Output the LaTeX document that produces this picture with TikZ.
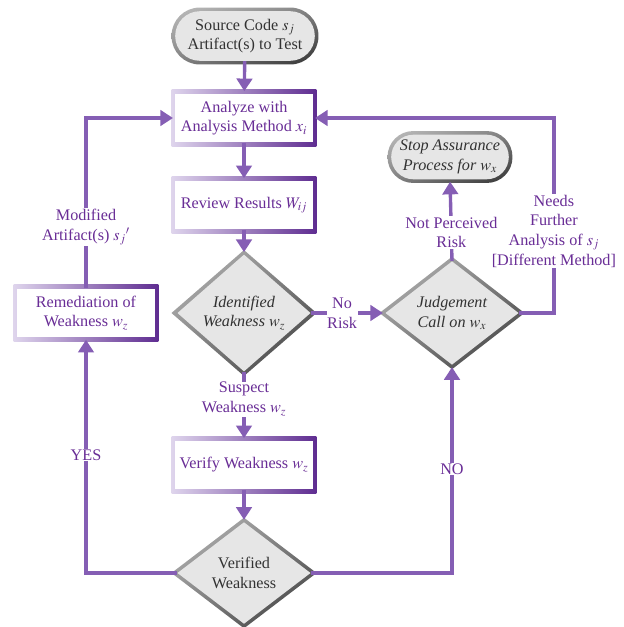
\documentclass[tikz,border=0pt]{standalone}
\usepackage{mathptmx}
\usepackage{fontspec}
\setmainfont{Liberation Serif}
\usetikzlibrary{arrows.meta,shapes.geometric,backgrounds,shadings}

\definecolor{flowline}{RGB}{133,94,180}
\definecolor{flowtext}{RGB}{105,45,150}
\definecolor{boxlight}{RGB}{222,212,236}
\definecolor{boxdark}{RGB}{95,45,145}
\definecolor{greylight}{RGB}{190,190,190}
\definecolor{greymid}{RGB}{130,130,130}
\definecolor{greydark}{RGB}{50,50,50}
\definecolor{greyfill}{RGB}{230,230,230}

\newcommand{\flowfont}{\fontsize{11.5}{14}\selectfont}

\tikzset{
  flowbox/.style={rectangle, fill=white, text=flowtext, align=center, inner sep=0pt,
    minimum width=3.43cm, minimum height=1.22cm},
  decision/.style={diamond, fill=greyfill, text=greydark, align=center, inner sep=0pt,
    minimum width=3.33cm, minimum height=2.54cm},
  terminal/.style={rectangle, fill=greyfill, text=greydark, align=center, inner sep=0pt},
  slanted/.style={font=\flowfont\itshape},
  greyrim/.style={upper left=greylight, upper right=greymid, lower left=greymid, lower right=greydark},
  flow/.style={draw=flowline, line width=2.4pt, -{Triangle[width=11pt,length=9pt]}, shorten >=1.5pt},
  lbl/.style={fill=white, text=flowtext, align=center, inner sep=0.5pt}
}

\begin{document}
\begin{tikzpicture}[x=0.025cm, y=-0.025cm, font=\flowfont]
\useasboundingbox (0,0) rectangle (624,627);

% terminals
\node[terminal, minimum width=3.49cm, minimum height=1.24cm, rounded corners=0.62cm] (src) at (245,36) {Source Code $s_j$\\Artifact(s) to Test};
\node[terminal, minimum width=2.94cm, minimum height=1.115cm, rounded corners=0.557cm, slanted] (stop) at (450,157) {Stop Assurance\\Process for $w_x$};

% process boxes
\node[flowbox] (analyze) at (244,118) {Analyze with\\Analysis Method $x_i$};
\node[flowbox] (review) at (244,205) {Review Results $W_{ij}$};
\node[flowbox] (remed) at (86,313) {Remediation of\\Weakness $w_z$};
\node[flowbox] (verify) at (244,465) {Verify Weakness $w_z$};

% decisions
\node[decision, slanted] (ident) at (244,313) {Identified\\Weakness $w_z$};
\node[decision, slanted] (judge) at (452,313) {Judgement\\Call on $w_x$};
\node[decision] (verified) at (244,573) {Verified\\Weakness};

% borders
\begin{scope}[on background layer]
\foreach \n in {analyze,review,remed,verify}
  \shade[left color=boxlight, right color=boxdark] ([shift={(-2.4pt,2.4pt)}]\n.north west) rectangle ([shift={(2.4pt,-2.4pt)}]\n.south east);
\foreach \n in {ident,judge,verified}
  \shade[greyrim]
    ([yshift=3pt]\n.north) -- ([xshift=4pt]\n.east) -- ([yshift=-3pt]\n.south) -- ([xshift=-4pt]\n.west) -- cycle;
\shade[greyrim, rounded corners=0.705cm]
  ([shift={(-2.4pt,2.4pt)}]src.north west) rectangle ([shift={(2.4pt,-2.4pt)}]src.south east);
\shade[greyrim, rounded corners=0.642cm]
  ([shift={(-2.4pt,2.4pt)}]stop.north west) rectangle ([shift={(2.4pt,-2.4pt)}]stop.south east);
\end{scope}

% main column
\draw[flow] (src) -- (analyze);
\draw[flow] (analyze) -- (review);
\draw[flow] (review) -- (ident);
\draw[flow] (ident) -- node[lbl, pos=0.4] {Suspect\\Weakness $w_z$} (verify);
\draw[flow] (verify) -- (verified);

% loops back
\draw[flow] (remed.north) |- node[lbl, pos=0.18] {Modified\\Artifact(s) ${s_j}'$} (analyze.west);
\draw[flow] (judge.east) -- ++(35,0) |- node[lbl, pos=0.21] {Needs\\Further\\Analysis of $s_j$\\{[}Different Method{]}} (analyze.east);

% branches
\draw[flow] (ident.east) -- node[lbl, pos=0.42] {No\\Risk} (judge.west);
\draw[flow] (judge.north) -- node[lbl, pos=0.35] {Not Perceived\\Risk} (stop.south);
\draw[flow] (verified.west) -| node[lbl, pos=0.75] {YES} (remed.south);
\draw[flow] (verified.east) -| node[lbl, pos=0.75] {NO} (judge.south);

\end{tikzpicture}
\end{document}
